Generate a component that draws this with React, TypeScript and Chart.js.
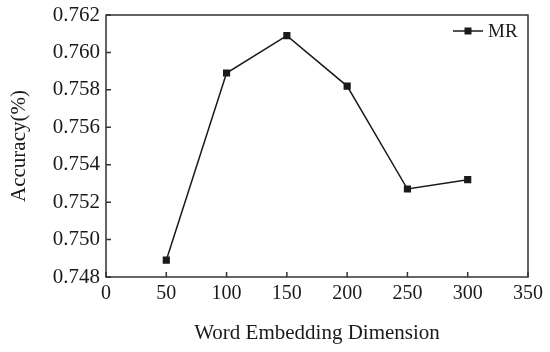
import React, { useEffect, useRef } from "react";
import { Chart, registerables } from "chart.js";

Chart.register(...registerables);

const dimensions = [50, 100, 150, 200, 250, 300];
const accuracyMR = [0.7489, 0.7589, 0.7609, 0.7582, 0.7527, 0.7532];
const seriesLabel = "MR";
const xTitle = "Word Embedding Dimension";
const yTitle = "Accuracy(%)";

const FONT = "'Liberation Serif', 'DejaVu Serif', serif";
const INK = "#1a1a1a";

const framePlugin = {
  id: "frame",
  afterDraw(chart: any) {
    const { ctx, chartArea } = chart;
    const xs = chart.scales.x;
    const ys = chart.scales.y;
    ctx.save();
    ctx.strokeStyle = "#333";
    ctx.lineWidth = 1.5;
    ctx.strokeRect(chartArea.left, chartArea.top, chartArea.right - chartArea.left, chartArea.bottom - chartArea.top);
    ctx.beginPath();
    xs.ticks.forEach((t: any) => {
      const px = xs.getPixelForValue(t.value);
      ctx.moveTo(px, chartArea.bottom);
      ctx.lineTo(px, chartArea.bottom - 5);
    });
    ys.ticks.forEach((t: any) => {
      const py = ys.getPixelForValue(t.value);
      ctx.moveTo(chartArea.left, py);
      ctx.lineTo(chartArea.left + 5, py);
    });
    ctx.stroke();

    // legend inside top-right
    const lx1 = chartArea.right - 75;
    const lx2 = chartArea.right - 45;
    const ly = chartArea.top + 16;
    ctx.strokeStyle = INK;
    ctx.lineWidth = 1.5;
    ctx.beginPath();
    ctx.moveTo(lx1, ly);
    ctx.lineTo(lx2, ly);
    ctx.stroke();
    ctx.fillStyle = INK;
    ctx.fillRect((lx1 + lx2) / 2 - 3.5, ly - 3.5, 7, 7);
    ctx.font = `19px ${FONT}`;
    ctx.textBaseline = "middle";
    ctx.textAlign = "left";
    ctx.fillText(seriesLabel, lx2 + 5, ly + 1);
    ctx.restore();
  },
};

export default function App() {
  const ref = useRef<HTMLCanvasElement>(null);
  useEffect(() => {
    if (!ref.current) return;
    const chart = new Chart(ref.current, {
      type: "line",
      data: {
        datasets: [
          {
            label: seriesLabel,
            data: dimensions.map((d, i) => ({ x: d, y: accuracyMR[i] })),
            borderColor: INK,
            backgroundColor: INK,
            borderWidth: 1.5,
            pointStyle: "rect",
            pointRadius: 4,
            pointBackgroundColor: INK,
            pointBorderColor: INK,
            tension: 0,
          },
        ],
      },
      options: {
        animation: false,
        responsive: false,
        layout: { padding: { top: 15, right: 22, left: 0, bottom: 0 } },
        plugins: { legend: { display: false }, tooltip: { enabled: false } },
        scales: {
          x: {
            type: "linear",
            min: 0,
            max: 350,
            ticks: { stepSize: 50, color: INK, font: { family: FONT, size: 20 }, padding: 5, maxRotation: 0 },
            grid: { display: false, drawTicks: false },
            border: { display: false },
            title: { display: true, text: xTitle, color: INK, font: { family: FONT, size: 21 }, padding: { top: 0, bottom: 6 } },
            afterFit: (s: any) => { s.height = 75; },
          },
          y: {
            min: 0.748,
            max: 0.762,
            ticks: {
              stepSize: 0.002,
              color: INK,
              font: { family: FONT, size: 21 },
              padding: 6,
              callback: (v: any) => Number(v).toFixed(3),
            },
            grid: { display: false, drawTicks: false },
            border: { display: false },
            title: { display: true, text: yTitle, color: INK, font: { family: FONT, size: 21 }, padding: { top: 7, bottom: 0 } },
            afterFit: (s: any) => { s.width = 106; s.paddingTop = 0; s.paddingBottom = 0; },
          },
        },
      },
      plugins: [framePlugin],
    });
    return () => chart.destroy();
  }, []);
  return (
    <div style={{ position: "fixed", left: 0, top: 0, width: 550, height: 352, background: "#fff" }}>
      <canvas ref={ref} width={550} height={352} />
    </div>
  );
}
